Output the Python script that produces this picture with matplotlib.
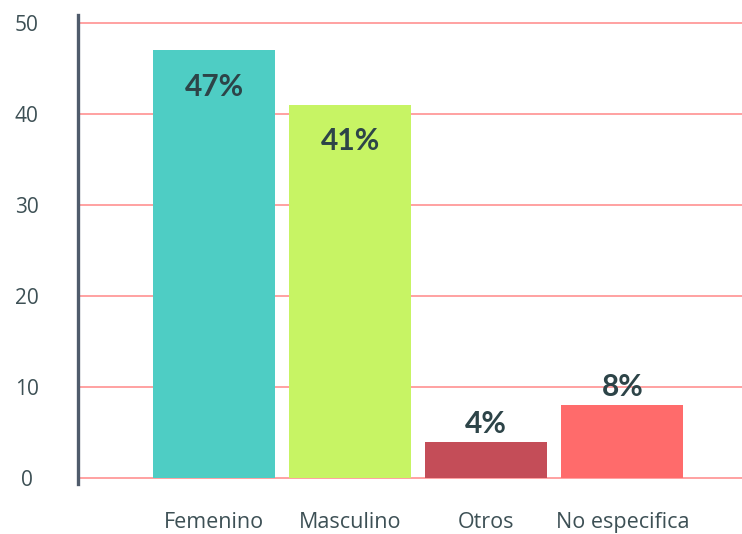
import matplotlib
matplotlib.use("Agg")
import matplotlib.pyplot as plt

categories = ["Femenino", "Masculino", "Otros", "No especifica"]
values = [47, 41, 4, 8]
labels = ["47%", "41%", "4%", "8%"]
colors = ["#4ECDC4", "#C7F464", "#C44D58", "#FF6B6B"]
yticks = [0, 10, 20, 30, 40, 50]

plt.rcParams['font.family'] = ['Open Sans', 'DejaVu Sans']

fig = plt.figure(figsize=(7.42, 5.34), dpi=100)
ax = fig.add_axes([78/742, 50/534, 1 - 78/742, (484-15)/534])

x = list(range(len(categories)))
ax.bar(x, values, width=0.9, color=colors, zorder=3)

ax.set_xlim(-1.0, 3.88)
ax.set_ylim(-0.66, 50.9)
ax.set_yticks(yticks)
ax.set_xticks(x)
ax.set_xticklabels(categories)
ax.yaxis.grid(True, color="#ff9a9a", linewidth=1.3, zorder=0)
ax.set_axisbelow(True)

for s in ["top", "right", "bottom"]:
    ax.spines[s].set_visible(False)
ax.spines["left"].set_color("#4f5b6b")
ax.spines["left"].set_linewidth(2.4)

ax.tick_params(axis="y", length=0, pad=37, labelsize=15, labelcolor="#3d5055")
for t in ax.get_yticklabels():
    t.set_horizontalalignment("center")
    t.set_verticalalignment("center_baseline")
ax.tick_params(axis="x", length=0, pad=20, labelsize=15.5, labelcolor="#3d5055")

for i, (v, lab) in enumerate(zip(values, labels)):
    off = -26 if v > 20 else 13
    ax.annotate(lab, (i, v), xytext=(0, off), textcoords="offset points",
                ha="center", va="center", fontsize=21.5, fontweight="bold",
                color="#2d4448", zorder=4, family=["Lato", "DejaVu Sans"])

fig.savefig("out.png", dpi=100)
